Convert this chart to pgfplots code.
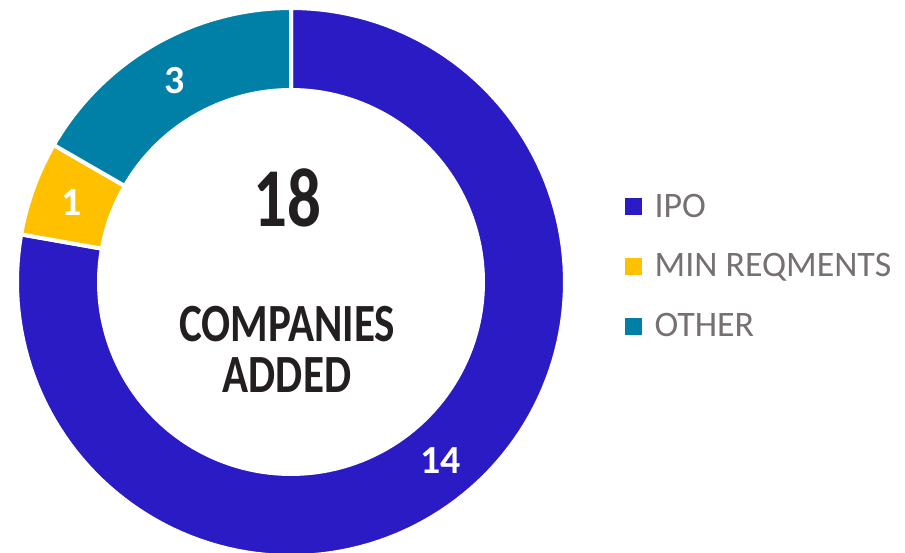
\documentclass[border=0pt]{standalone}
\usepackage{pgfplots}
\pgfplotsset{compat=1.18}
\usepackage{pgfplotstable}
\usepackage{fontspec}
\setmainfont{Carlito}
\newfontfamily\condfont{Carlito}[FakeStretch=0.8]

\definecolor{ipo}{RGB}{42,27,197}
\definecolor{minreq}{RGB}{255,192,0}
\definecolor{other}{RGB}{1,128,167}
\definecolor{legendgray}{RGB}{118,112,112}
\definecolor{textdark}{RGB}{35,31,32}

\pgfplotstableread{
label value
IPO 14
MIN 1
OTHER 3
}\donutdata

\begin{document}
\begin{tikzpicture}
% values and angles (start at top, clockwise)
\pgfplotstablegetelem{0}{value}\of\donutdata \pgfmathsetmacro\vA{\pgfplotsretval}
\pgfplotstablegetelem{1}{value}\of\donutdata \pgfmathsetmacro\vB{\pgfplotsretval}
\pgfplotstablegetelem{2}{value}\of\donutdata \pgfmathsetmacro\vC{\pgfplotsretval}
\pgfmathsetmacro\total{\vA+\vB+\vC}
\pgfmathsetmacro\aA{90}
\pgfmathsetmacro\aB{\aA-360*\vA/\total}
\pgfmathsetmacro\aC{\aB-360*\vB/\total}
\pgfmathsetmacro\aD{\aC-360*\vC/\total}
\def\cx{291}\def\cy{271}\def\R{274}\def\r{194}\def\rm{233}
\pgfmathsetmacro\lAx{\cx+\rm*cos((\aA+\aB)/2)}\pgfmathsetmacro\lAy{\cy+\rm*sin((\aA+\aB)/2)}
\pgfmathsetmacro\lBx{\cx+\rm*cos((\aB+\aC)/2)}\pgfmathsetmacro\lBy{\cy+\rm*sin((\aB+\aC)/2)}
\pgfmathsetmacro\lCx{\cx+\rm*cos((\aC+\aD)/2)}\pgfmathsetmacro\lCy{\cy+\rm*sin((\aC+\aD)/2)}
\begin{axis}[
  x=1bp, y=1bp, xmin=0, xmax=905, ymin=0, ymax=553,
  hide axis, clip=false,
  legend image code/.code={\fill[#1] (0bp,-8bp) rectangle (16bp,8bp);},
  legend style={at={(axis cs:625,287)}, anchor=west, draw=none, fill=none,
    inner sep=0pt, text=legendgray, font=\fontsize{36}{40}\selectfont,
    column sep=11bp, row sep=31bp, cells={anchor=west}},
]
\addplot[fill=ipo, draw=white, line width=4bp, domain=\aB:\aA, samples=140, variable=\t, forget plot]
  ({\cx+\R*cos(\t)},{\cy+\R*sin(\t)}) -- (axis cs:\cx,\cy) -- cycle;
\addplot[fill=minreq, draw=white, line width=4bp, domain=\aC:\aB, samples=20, variable=\t, forget plot]
  ({\cx+\R*cos(\t)},{\cy+\R*sin(\t)}) -- (axis cs:\cx,\cy) -- cycle;
\addplot[fill=other, draw=white, line width=4bp, domain=\aD:\aC, samples=40, variable=\t, forget plot]
  ({\cx+\R*cos(\t)},{\cy+\R*sin(\t)}) -- (axis cs:\cx,\cy) -- cycle;
\addplot[fill=white, draw=none, domain=0:360, samples=180, variable=\t, forget plot]
  ({\cx+\r*cos(\t)},{\cy+\r*sin(\t)}) -- cycle;
\addlegendimage{ipo}\addlegendentry{IPO}
\addlegendimage{minreq}\addlegendentry{MIN REQMENTS}
\addlegendimage{other}\addlegendentry{OTHER}
% slice values
\node[text=white, font=\bfseries\fontsize{40}{44}\selectfont] at (axis cs:\lAx,\lAy) {14};
\node[text=white, font=\bfseries\fontsize{40}{44}\selectfont] at (axis cs:\lBx,\lBy) {1};
\node[text=white, font=\bfseries\fontsize{40}{44}\selectfont] at (axis cs:\lCx,\lCy) {3};
% centre text
\node[text=textdark, anchor=base, font=\condfont\bfseries\fontsize{84}{90}\selectfont] at (axis cs:287,326) {18};
\node[text=textdark, anchor=base, font=\condfont\bfseries\fontsize{54}{60}\selectfont] at (axis cs:287,211) {COMPANIES};
\node[text=textdark, anchor=base, font=\condfont\bfseries\fontsize{54}{60}\selectfont] at (axis cs:287,160) {ADDED};
\end{axis}
\pgfresetboundingbox
\useasboundingbox (current axis.south west) rectangle (current axis.north east);
\end{tikzpicture}
\end{document}
